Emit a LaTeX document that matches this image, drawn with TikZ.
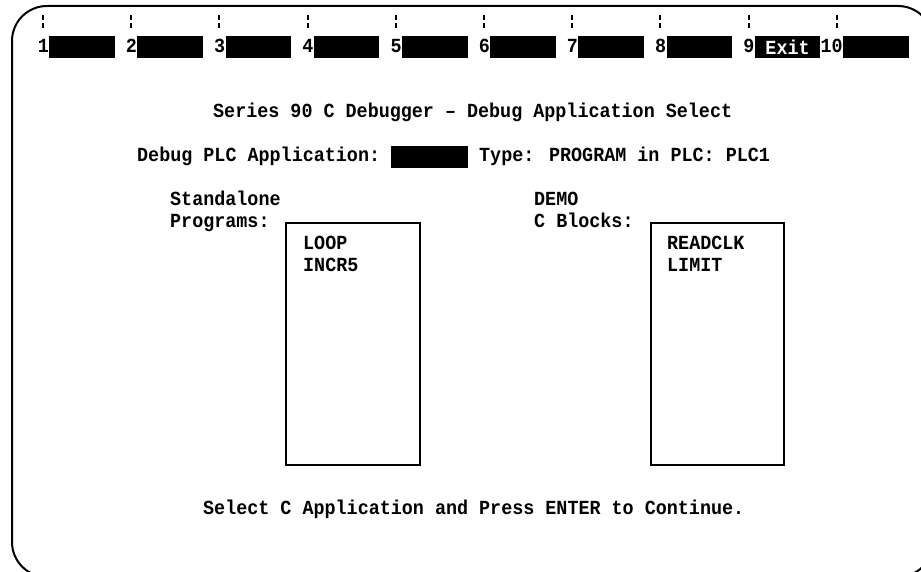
\documentclass[tikz,border=0pt]{standalone}
\usepackage{fontspec}
\usepackage{tikz}
\usetikzlibrary{calc, positioning}
\newfontfamily\screenfont[FakeStretch=0.92]{Liberation Mono}
\def\keysep{88.2}
\def\rowsep{22}
\tikzstyle{screen text}=[anchor=base west, inner sep=0pt, font=\screenfont\bfseries\fontsize{20pt}{22pt}\selectfont]
\tikzstyle{key bar}=[anchor=north west, fill=black, inner sep=0pt, minimum width=65.5pt, minimum height=22pt]
\tikzstyle{key num}=[screen text, anchor=base east]
\tikzstyle{key tick}=[line width=2pt, dash pattern=on 5pt off 3pt]
\tikzstyle{field}=[anchor=north west, fill=black, inner sep=0pt, minimum width=77pt, minimum height=22pt]
\tikzstyle{list box}=[anchor=north west, draw, line width=2pt, inner sep=0pt, minimum width=134pt, minimum height=242pt]

\begin{document}
\begin{tikzpicture}[x=1pt, y=-1pt]
	\useasboundingbox (0,0) rectangle (921,572);

	% Draw the screen frame
	\begin{scope}
		\clip (0,0) rectangle (921,572);
		\draw[line width=2pt, rounded corners=35pt] (12,6) rectangle (933,577);
	\end{scope}

	% Draw the function key bar
	\foreach \i in {1,...,10}{
		\pgfmathsetmacro\tx{43+\keysep*(\i-1)}
		\draw[key tick] (\tx,15) -- (\tx,28);
		\node[key bar] (K-\i) at (\tx+6,36) {};
		\node[key num] (N-\i) at ($(K-\i.south west)+(0,-6)$) {\i};
	}
	\node[screen text, anchor=center, text=white] (exit) at (K-9) {Exit};

	% Title and application line
	\node[screen text] (title) at (213,118) {Series 90 C Debugger – Debug Application Select};
	\node[screen text] (debug) at (137,118+2*\rowsep) {Debug PLC Application:};
	\node[field] (app) at (391,146) {};
	\node[screen text] (type) at (479,118+2*\rowsep) {Type: PROGRAM in PLC: PLC1};

	% Standalone programs list
	\node[screen text] (standalone) at (170,118+4*\rowsep) {Standalone};
	\node[screen text] (programs) at (170,118+5*\rowsep) {Programs:};
	\node[list box] (prog-box) at (285,222) {};
	\node[screen text] (loop) at (303,118+6*\rowsep) {LOOP};
	\node[screen text] (incr5) at (303,118+7*\rowsep) {INCR5};

	% C blocks list
	\node[screen text] (demo) at (534,118+4*\rowsep) {DEMO};
	\node[screen text] (cblocks) at (534,118+5*\rowsep) {C Blocks:};
	\node[list box, minimum width=133pt] (block-box) at (650,222) {};
	\node[screen text] (readclk) at (667,118+6*\rowsep) {READCLK};
	\node[screen text] (limit) at (667,118+7*\rowsep) {LIMIT};

	% Prompt line
	\node[screen text] (prompt) at (203,118+18*\rowsep) {Select C Application and Press ENTER to Continue.};
\end{tikzpicture}
\end{document}
